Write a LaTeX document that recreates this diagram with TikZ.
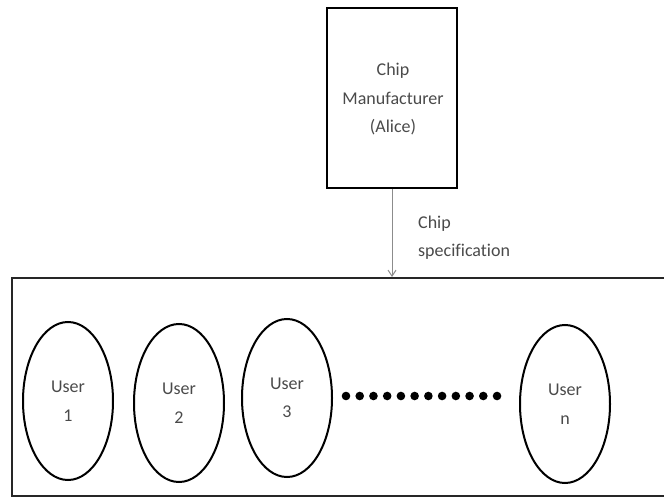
\documentclass[tikz,border=0pt]{standalone}
\usepackage{fontspec}
\setmainfont{Carlito}[Ligatures=NoCommon]
\usetikzlibrary{shapes.geometric,arrows.meta}
\definecolor{txt}{HTML}{4A4A4A}
\begin{document}
\begin{tikzpicture}[x=1pt,y=-1pt,
  lbl/.style={text=txt,font=\fontsize{18}{28.5}\selectfont,align=center,inner sep=0pt},
  mfr/.style={draw=black,line width=2pt,minimum width=130pt,minimum height=180pt,inner sep=0pt},
  grp/.style={draw=black!85,line width=2pt,minimum width=660pt,minimum height=218pt,inner sep=0pt,anchor=north west},
  usr/.style={ellipse,draw=black,line width=2pt,minimum width=90pt,minimum height=158pt,inner sep=0pt,text=txt,font=\fontsize{18}{28.5}\selectfont,align=center},
  conn/.style={draw=black!45,line width=1pt,-{Straight Barb[length=6pt,width=8pt]}}
]
\clip (0,0) rectangle (664,497);
\useasboundingbox (0,0) rectangle (664,497);
\node[mfr] (chip) at (392,98) {};
\node[lbl] (chiptext) at (393,99.5) {Chip\\Manufacturer\\(Alice)};
\node[grp] (group) at (10.5,277) {};
\draw[conn] (chip.south) -- (chip.south |- group.north);
\node[lbl,align=left,anchor=west] (spec) at (418,237.5) {Chip\\specification};
\node[usr] (u1) at (68,401) {User\\1};
\node[usr] (u2) at (179,403) {User\\2};
\node[usr] (u3) at (287,398) {User\\3};
\node[usr] (un) at (565,404) {User\\n};
\foreach \i in {0,...,11} {
  \fill[black] (346+\i*13.73,396) circle (4.3pt);
}
\end{tikzpicture}
\end{document}
